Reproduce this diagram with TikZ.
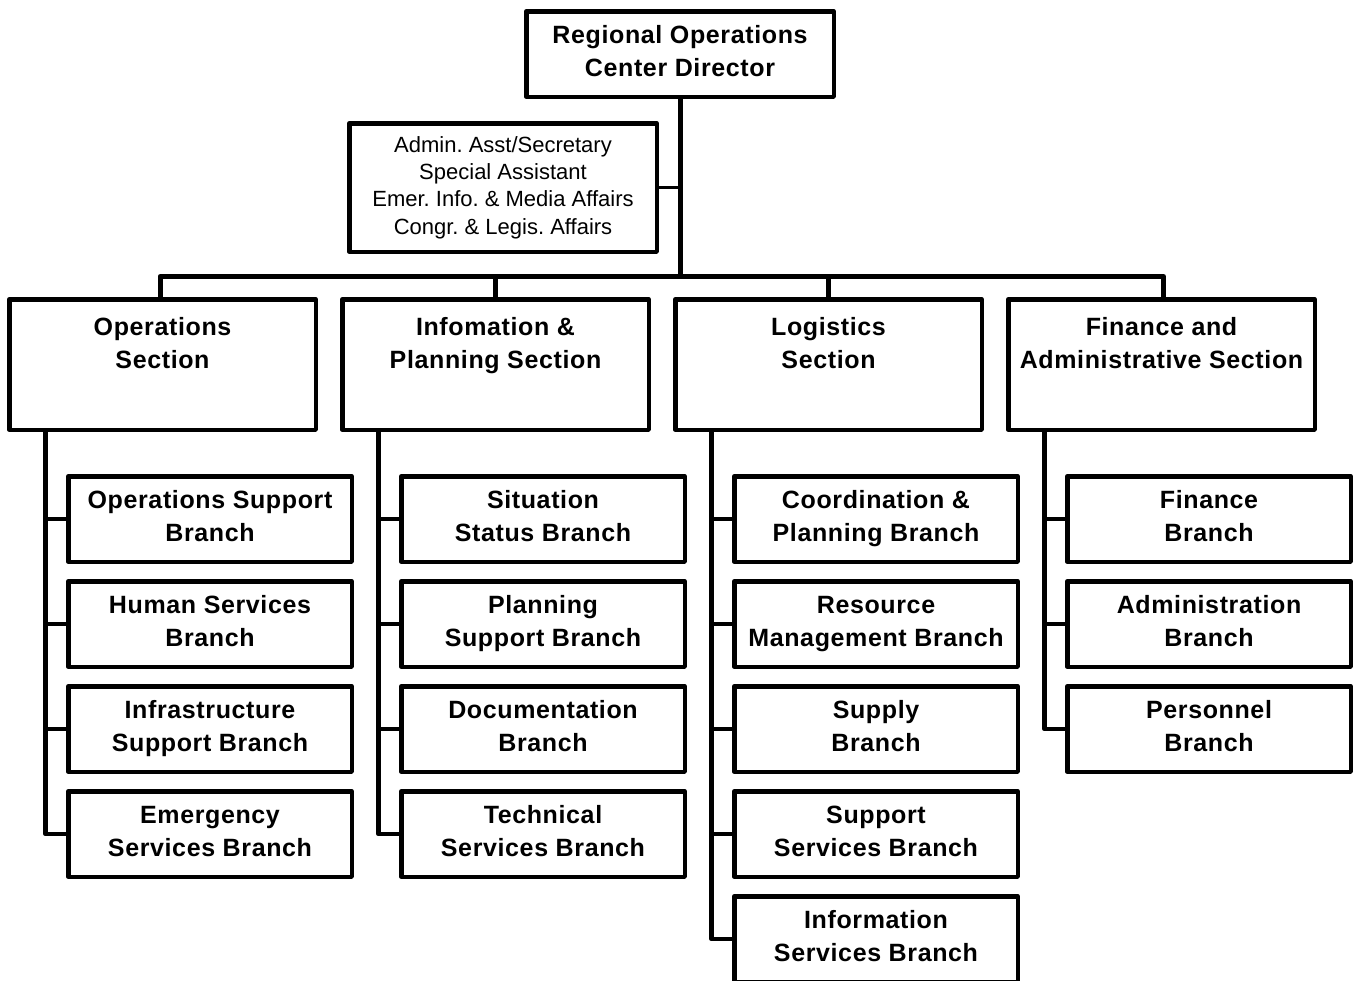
\documentclass[tikz,border=0pt]{standalone}
\usepackage{fontspec}
\setmainfont{Liberation Sans}
\newfontfamily\spacedsans[LetterSpace=2.5]{Liberation Sans}
\newcommand{\mystrut}{\rule[-6pt]{0pt}{48pt}}
\begin{document}
\frenchspacing
\begin{tikzpicture}[x=1pt,y=-1pt,
  box/.style={draw, line width=4.5pt, rectangle, inner sep=0pt, line join=round},
  boldtxt/.style={font=\fontsize{25}{33}\spacedsans\bfseries},
  topbox/.style={box, boldtxt, minimum width=307.5pt, minimum height=85.5pt, align=center,
    execute at begin node=\mystrut, execute at end node=\mystrut},
  adminbox/.style={box, minimum width=307.5pt, minimum height=128.5pt, align=center,
    font=\fontsize{22}{27.3}\selectfont},
  secbox/.style={box, minimum width=306.5pt, minimum height=130.5pt},
  sectext/.style={boldtxt, anchor=north, inner sep=0pt, align=center},
  brbox/.style={box, boldtxt, minimum width=283.5pt, minimum height=85.5pt, align=center,
    execute at begin node=\mystrut, execute at end node=\mystrut},
  conn/.style={line width=5pt},
  thin/.style={line width=3.5pt},
  brconn/.style={line width=4.5pt, line join=round}
]
\useasboundingbox (0,0) rectangle (1354,980);

% Director and staff
\node[topbox] (dir) at (680,54) {Regional Operations\\Center Director};
\node[adminbox] (adm) at (503,187.5) {Admin. Asst/Secretary\\Special Assistant\\Emer. Info. \& Media Affairs\\Congr. \& Legis. Affairs};

% Sections
\node[secbox] (s1) at (162.5,364.5) {};
\node[secbox] (s2) at (495.5,364.5) {};
\node[secbox] (s3) at (828.5,364.5) {};
\node[secbox] (s4) at (1161.5,364.5) {};
\node[sectext] (t1) at (162.5,317) {Operations\\Section};
\node[sectext] (t2) at (495.5,317) {Infomation \&\\Planning Section};
\node[sectext] (t3) at (828.5,317) {Logistics\\Section};
\node[sectext] (t4) at (1161.5,317) {Finance and\\Administrative Section};

% Bus
\coordinate (busL) at (160,276.5);
\coordinate (busR) at (1163.5,276.5);
\coordinate (busM) at (680,276.5);
\draw[conn] (dir.south) -- (busM);
\draw[thin] (adm.east) -- (adm.east -| busM);
\draw[conn, line join=round] (s1.north -| busL) -- (busL) -- (busR) -- (s4.north -| busR);
\draw[conn] (s2.north) -- (s2.north |- busM);
\draw[conn] (s3.north) -- (s3.north |- busM);

% Operations branches
\node[brbox] (o1) at (210,519) {Operations Support\\Branch};
\node[brbox] (o2) at (210,624) {Human Services\\Branch};
\node[brbox] (o3) at (210,729) {Infrastructure\\Support Branch};
\node[brbox] (o4) at (210,834) {Emergency\\Services Branch};

% Info & Planning branches
\node[brbox] (p1) at (543,519) {Situation\\Status Branch};
\node[brbox] (p2) at (543,624) {Planning\\Support Branch};
\node[brbox] (p3) at (543,729) {Documentation\\Branch};
\node[brbox] (p4) at (543,834) {Technical\\Services Branch};

% Logistics branches
\node[brbox] (l1) at (876,519) {Coordination \&\\Planning Branch};
\node[brbox] (l2) at (876,624) {Resource\\Management Branch};
\node[brbox] (l3) at (876,729) {Supply\\Branch};
\node[brbox] (l4) at (876,834) {Support\\Services Branch};
\node[brbox] (l5) at (876,939) {Information\\Services Branch};

% Finance branches
\node[brbox] (f1) at (1209,519) {Finance\\Branch};
\node[brbox] (f2) at (1209,624) {Administration\\Branch};
\node[brbox] (f3) at (1209,729) {Personnel\\Branch};

% Stems
\coordinate (st1) at (45.5,0);
\coordinate (st2) at (378.5,0);
\coordinate (st3) at (711.5,0);
\coordinate (st4) at (1044.5,0);

\draw[brconn] (s1.south -| st1) -- (o4.west -| st1) -- (o4.west);
\foreach \b in {o1,o2,o3} \draw[brconn] (\b.west -| st1) -- (\b.west);
\draw[brconn] (s2.south -| st2) -- (p4.west -| st2) -- (p4.west);
\foreach \b in {p1,p2,p3} \draw[brconn] (\b.west -| st2) -- (\b.west);
\draw[brconn] (s3.south -| st3) -- (l5.west -| st3) -- (l5.west);
\foreach \b in {l1,l2,l3,l4} \draw[brconn] (\b.west -| st3) -- (\b.west);
\draw[brconn] (s4.south -| st4) -- (f3.west -| st4) -- (f3.west);
\foreach \b in {f1,f2} \draw[brconn] (\b.west -| st4) -- (\b.west);
\end{tikzpicture}
\end{document}
